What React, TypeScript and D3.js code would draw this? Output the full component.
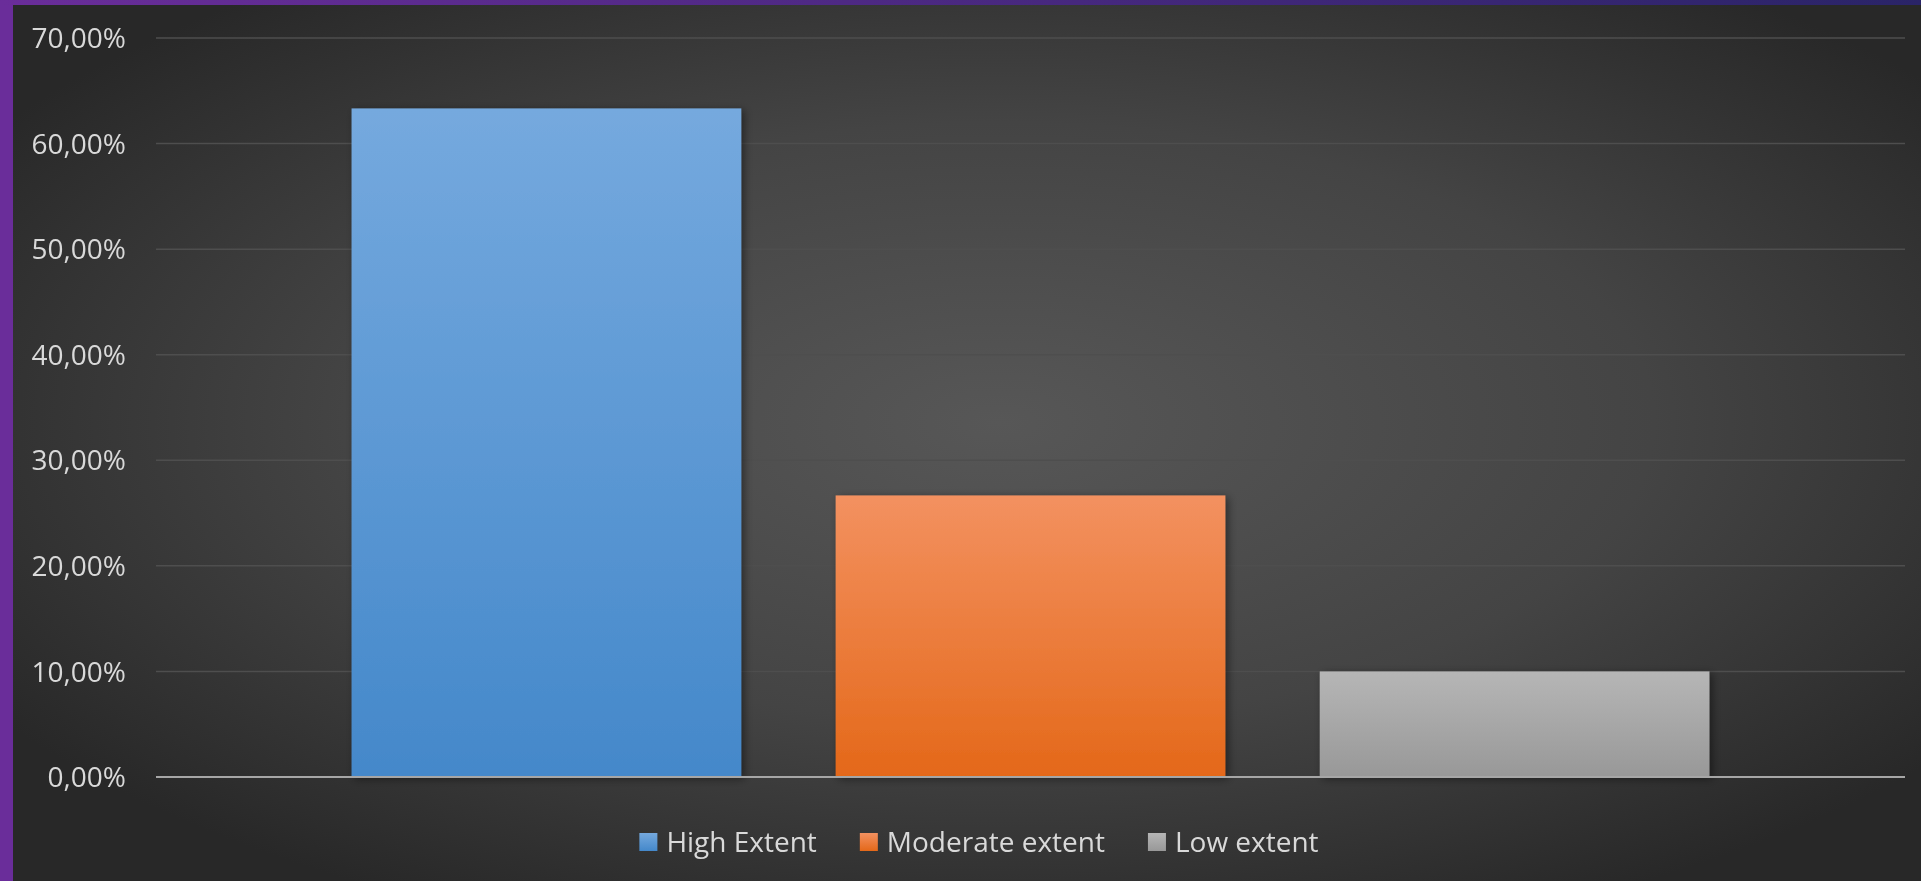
import React, { useEffect, useRef } from 'react';
import * as d3 from 'd3';

const categories = ['High Extent', 'Moderate extent', 'Low extent'];
const shares = [63.33, 26.67, 10.0];
const yTicks = [0, 10, 20, 30, 40, 50, 60, 70];

const barColors = [
    { top: '#75a9de', bottom: '#4488ca' },
    { top: '#f39160', bottom: '#e46819' },
    { top: '#b6b6b6', bottom: '#989898' },
];

const W = 1921;
const H = 881;

export default function App() {
    const svgRef = useRef<SVGSVGElement>(null);

    useEffect(() => {
        if (!svgRef.current) return;
        const svg = d3.select(svgRef.current);
        svg.selectAll('*').remove();

        const margin = { left: 156, right: 16, top: 38, bottom: 104 };
        const font = '"Open Sans", "Noto Sans", sans-serif';

        const defs = svg.append('defs');

        const bg = defs.append('radialGradient').attr('id', 'bg')
            .attr('cx', '52%').attr('cy', '48%').attr('r', '62%');
        bg.append('stop').attr('offset', '0%').attr('stop-color', '#575757');
        bg.append('stop').attr('offset', '55%').attr('stop-color', '#444444');
        bg.append('stop').attr('offset', '100%').attr('stop-color', '#282828');

        const topBorder = defs.append('linearGradient').attr('id', 'topBorder');
        topBorder.append('stop').attr('offset', '0%').attr('stop-color', '#6a2d9a');
        topBorder.append('stop').attr('offset', '100%').attr('stop-color', '#2a2468');

        barColors.forEach((c, i) => {
            const g = defs.append('linearGradient').attr('id', `bar${i}`)
                .attr('x1', 0).attr('y1', 0).attr('x2', 0).attr('y2', 1);
            g.append('stop').attr('offset', '0%').attr('stop-color', c.top);
            g.append('stop').attr('offset', '100%').attr('stop-color', c.bottom);
        });

        const shadow = defs.append('filter').attr('id', 'shadow')
            .attr('x', '-10%').attr('y', '-10%').attr('width', '130%').attr('height', '130%');
        shadow.append('feDropShadow').attr('dx', 3).attr('dy', 2)
            .attr('stdDeviation', 4).attr('flood-color', '#000').attr('flood-opacity', 0.45);

        // background + frame
        svg.append('rect').attr('width', W).attr('height', H).attr('fill', 'url(#bg)');
        svg.append('rect').attr('width', 13).attr('height', H).attr('fill', '#6a2d9a');
        svg.append('rect').attr('width', W).attr('height', 5).attr('fill', 'url(#topBorder)');

        const y = d3.scaleLinear().domain([0, 70]).range([H - margin.bottom, margin.top]);
        const x = d3.scaleBand()
            .domain(categories)
            .range([margin.left, W - margin.right])
            .paddingInner(0.195)
            .paddingOuter(0.404);

        // gridlines
        svg.append('g').selectAll('line')
            .data(yTicks.filter(t => t > 0))
            .enter().append('line')
            .attr('x1', margin.left).attr('x2', W - margin.right)
            .attr('y1', d => y(d)).attr('y2', d => y(d))
            .attr('stroke', '#4e4e4e').attr('stroke-width', 1.5);

        // tick labels
        svg.append('g').selectAll('text')
            .data(yTicks)
            .enter().append('text')
            .attr('x', 126)
            .attr('y', d => y(d))
            .attr('dy', '0.36em')
            .attr('text-anchor', 'end')
            .attr('font-family', font)
            .attr('font-size', 28)
            .attr('fill', '#d9d9d9')
            .text(d => d3.format('.2f')(d).replace('.', ',') + '%');

        // bars
        svg.append('g').selectAll('rect')
            .data(shares)
            .enter().append('rect')
            .attr('x', (_, i) => x(categories[i])!)
            .attr('y', d => y(d))
            .attr('width', x.bandwidth())
            .attr('height', d => y(0) - y(d))
            .attr('fill', (_, i) => `url(#bar${i})`)
            .attr('filter', 'url(#shadow)');

        // baseline
        svg.append('line')
            .attr('x1', margin.left).attr('x2', W - margin.right)
            .attr('y1', y(0)).attr('y2', y(0))
            .attr('stroke', '#a6a6a6').attr('stroke-width', 2);

        // legend
        const legend = svg.append('g');
        const items = legend.selectAll('g')
            .data(categories)
            .enter().append('g');
        items.append('rect')
            .attr('width', 18).attr('height', 18)
            .attr('y', 833)
            .attr('fill', (_, i) => `url(#bar${i})`);
        items.append('text')
            .attr('x', 27).attr('y', 842)
            .attr('dy', '0.36em')
            .attr('font-family', font)
            .attr('font-size', 28)
            .attr('fill', '#d9d9d9')
            .text(d => d);

        const widths = items.nodes().map(n => (n as SVGGElement).getBBox().width);
        const gap = 43;
        const total = d3.sum(widths) + gap * (widths.length - 1);
        let cx = 979 - total / 2;
        items.attr('transform', (_, i) => {
            const t = `translate(${cx},0)`;
            cx += widths[i] + gap;
            return t;
        });
    }, []);

    return (
        <div style={{ position: 'fixed', left: 0, top: 0 }}>
            <svg ref={svgRef} width={W} height={H} style={{ display: 'block' }}></svg>
        </div>
    );
}
